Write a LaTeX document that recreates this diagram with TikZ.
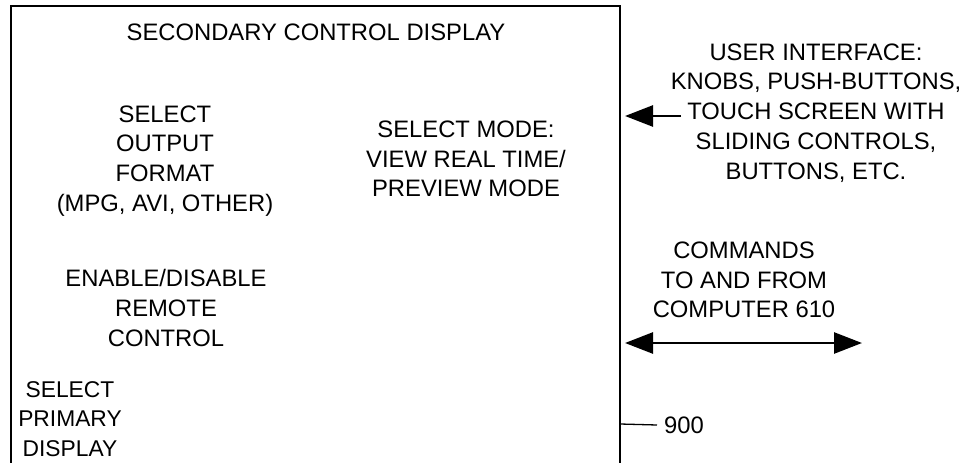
\documentclass[tikz,border=0pt]{standalone}
\usepackage{fontspec}
\setmainfont{Liberation Sans}
\usetikzlibrary{arrows.meta}
\begin{document}
\begin{tikzpicture}[x=1pt,y=-1pt,
  lbl/.style={align=center,inner sep=0pt,font=\fontsize{23.8}{29.8}\selectfont},
  bigarrow/.style={line width=2.6pt,{Triangle[length=28pt,width=21pt]}-{Triangle[length=28pt,width=21pt]}},
  onearrow/.style={line width=2.6pt,-{Triangle[length=28pt,width=21pt]}}]
\useasboundingbox (0,0) rectangle (967,463);
\clip (0,0) rectangle (967,463);
% box
\coordinate (bl) at (11,480);
\coordinate (tl) at (11,6);
\coordinate (tr) at (620,6);
\coordinate (br) at (620,480);
\draw[line width=2pt] (bl) -- (tl) -- (tr) -- (br);
% texts
\node[lbl] (title) at (316,32) {SECONDARY CONTROL DISPLAY};
\node[lbl] (fmt) at (165,161) {SELECT\\OUTPUT\\FORMAT\\(MPG, AVI, OTHER)};
\node[lbl] (mode) at (466,159) {SELECT MODE:\\VIEW REAL TIME/\\PREVIEW MODE};
\node[lbl] (remote) at (166,308) {ENABLE/DISABLE\\REMOTE\\CONTROL};
\node[lbl,font=\fontsize{22.8}{29.8}\selectfont] (primary) at (70,419) {SELECT\\PRIMARY\\DISPLAY};
\node[lbl] (ui) at (816,113) {USER INTERFACE:\\KNOBS, PUSH-BUTTONS,\\TOUCH SCREEN WITH\\SLIDING CONTROLS,\\BUTTONS, ETC.};
\node[lbl] (cmd) at (744,280) {COMMANDS\\TO AND FROM\\COMPUTER 610};
\node[lbl,anchor=west] (ref) at (664,425) {900};
% arrows
\coordinate (uitail) at (681,116);
\coordinate (uitip) at (625,116);
\draw[onearrow] (uitail) -- (uitip);
\coordinate (cmdl) at (625,343);
\coordinate (cmdr) at (862,343);
\draw[bigarrow] (cmdl) -- (cmdr);
\coordinate (lead) at (620,424);
\draw[line width=1.3pt] (lead) -- (ref.west -| 657,424);
\end{tikzpicture}
\end{document}
